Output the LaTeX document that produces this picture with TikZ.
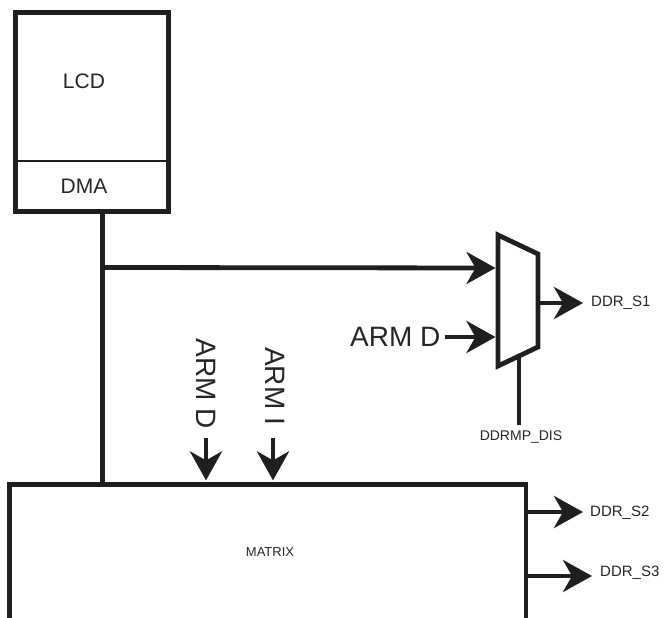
\documentclass[tikz,border=0pt]{standalone}
\usepackage{fontspec}
\setmainfont{Liberation Sans}
\usetikzlibrary{arrows.meta,calc}
\begin{document}
\begin{tikzpicture}[x=1pt,y=-1pt,
  thickline/.style={line width=4.8pt,draw=black!88},
  arr/.style={thickline,-{Stealth[length=29pt,width=32pt,inset=9pt]}},
  box/.style={draw=black!88,line width=5pt,fill=white,inner sep=0pt},
  lbl/.style={inner sep=0pt,text=black!85}]
\useasboundingbox (0,0) rectangle (664,618);
% LCD / DMA
\node[box,minimum width=152.5pt,minimum height=199pt] (lcd) at (91.75,112) {};
\coordinate (divl) at (15.5,161);
\coordinate (divr) at (168,161);
\draw[line width=1.3pt,draw=black!88] (divl) -- (divr);
\node[lbl,font=\fontsize{21}{24}\selectfont] (lcdt) at (84,81) {LCD};
\node[lbl,font=\fontsize{21}{24}\selectfont] (dmat) at (84,186) {DMA};
% matrix
\node[draw=black!88,line width=4.2pt,minimum width=516.5pt,minimum height=220pt,inner sep=0pt] (matrix) at (267.75,594.5) {};
\node[lbl,font=\fontsize{13}{15}\selectfont] (matt) at (270,552) {MATRIX};
% mux
\coordinate (m1) at (498,235);
\coordinate (m2) at (538,254);
\coordinate (m3) at (538,347);
\coordinate (m4) at (498,366);
\draw[thickline,line join=miter,fill=white] (m1) -- (m2) -- (m3) -- (m4) -- cycle;
\coordinate (muxin1) at (498,268);
\coordinate (muxin2) at (498,337);
\coordinate (muxout) at (538,303);
\coordinate (muxbot) at (519,356);
% bus
\coordinate (dmaout) at (102.5,211.5);
\coordinate (junc) at (102.5,267.5);
\draw[thickline] (dmaout) -- (dmaout |- matrix.north);
\draw[arr,shorten >=2.5pt] (junc) -- (muxin1);
% ARM D horizontal
\node[lbl,font=\fontsize{28}{32}\selectfont,anchor=west] (armd) at (350,337) {ARM D};
\draw[arr,shorten >=2.5pt] ($(armd.east)+(4,0)$) -- (muxin2);
% outputs
\node[lbl,font=\fontsize{15}{18}\selectfont,anchor=west] (s1) at (591,303) {DDR\_S1};
\draw[arr] (muxout) -- ($(s1.west)+(-8,0)$);
\node[lbl,font=\fontsize{14}{16}\selectfont] (dis) at (521,437) {DDRMP\_DIS};
\coordinate (disend) at (519,425);
\draw[thickline] (muxbot) -- (disend);
% vertical ARM inputs
\node[lbl,font=\fontsize{28}{32}\selectfont,rotate=-90] (armdv) at (206,384) {ARM D};
\node[lbl,font=\fontsize{28}{32}\selectfont,rotate=-90] (armiv) at (275,386) {ARM I};
\coordinate (ad) at (206,438);
\coordinate (ai) at (273,438);
\draw[arr,shorten >=2pt] (ad) -- (ad |- matrix.north);
\draw[arr,shorten >=2pt] (ai) -- (ai |- matrix.north);
% matrix outputs
\coordinate (mo2) at (526,512);
\coordinate (mo3) at (526,576);
\node[lbl,font=\fontsize{15}{18}\selectfont,anchor=west] (s2) at (590,513) {DDR\_S2};
\node[lbl,font=\fontsize{15}{18}\selectfont,anchor=west] (s3) at (600,573) {DDR\_S3};
\draw[arr] (mo2) -- (583,512);
\draw[arr] (mo3) -- (592,576);
\end{tikzpicture}
\end{document}
